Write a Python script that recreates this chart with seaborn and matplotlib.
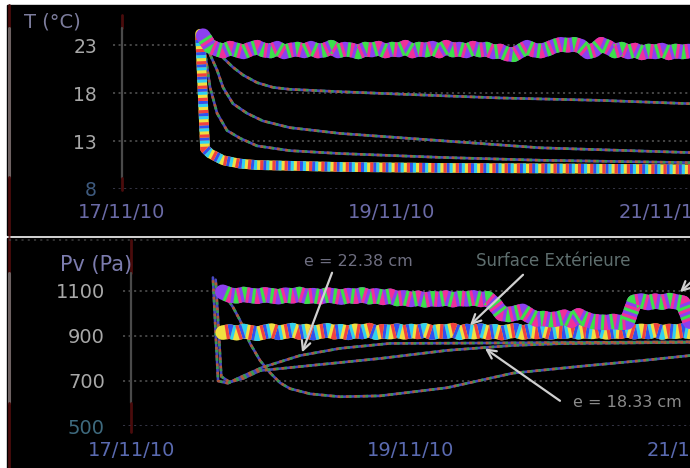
import numpy as np
import pandas as pd
import matplotlib
matplotlib.use("Agg")
import matplotlib.pyplot as plt
import seaborn as sns
from matplotlib.patches import Rectangle
from matplotlib.lines import Line2D

# ---------------- data (time in days since 17/11/10 00:00) ----------------
x_tick_pos = [0, 2, 4]
x_tick_labels = ["17/11/10", "19/11/10", "21/11/10"]

# Top panel : temperature
T_ticks = [8, 13, 18, 23]
t_T_band = [0.60, 0.65, 0.70, 0.75, 0.80, 0.85, 0.90, 0.95, 1.00, 1.05, 1.10, 1.15,
            1.20, 1.25, 1.30, 1.35, 1.40, 1.45, 1.50, 1.55, 1.60, 1.65, 1.70, 1.75,
            1.80, 1.85, 1.90, 1.95, 2.00, 2.05, 2.10, 2.15, 2.20, 2.25, 2.30, 2.35,
            2.40, 2.45, 2.50, 2.55, 2.60, 2.65, 2.70, 2.75, 2.80, 2.85, 2.90, 2.95,
            3.00, 3.05, 3.10, 3.15, 3.20, 3.25, 3.30, 3.35, 3.40, 3.45, 3.50, 3.55,
            3.60, 3.65, 3.70, 3.75, 3.80, 3.85, 3.90, 3.95, 4.00, 4.05, 4.10, 4.15, 4.20]
T_inside = [24.0, 22.9, 22.6, 22.4, 22.7, 22.5, 22.3, 22.6, 22.8, 22.5, 22.4, 22.7,
            22.3, 22.5, 22.6, 22.4, 22.7, 22.4, 22.5, 22.8, 22.4, 22.6, 22.5, 22.3,
            22.6, 22.5, 22.7, 22.4, 22.6, 22.5, 22.8, 22.4, 22.6, 22.5, 22.7, 22.4,
            22.8, 22.5, 22.6, 22.4, 22.7, 22.5, 22.6, 22.3, 22.4, 22.1, 22.0, 22.4,
            22.8, 22.5, 22.4, 22.6, 22.9, 23.1, 23.0, 23.1, 22.9, 22.3, 22.5, 23.1,
            22.8, 22.4, 22.6, 22.3, 22.5, 22.2, 22.4, 22.3, 22.5, 22.2, 22.4, 22.3, 22.4]

t_T_a = [0.60, 0.652, 0.748, 0.822, 0.896, 1.00, 1.119, 1.244, 1.615, 2.06, 2.80, 3.54, 4.21]
T_a = [24.0, 23.5, 21.7, 20.7, 19.9, 19.1, 18.6, 18.4, 18.15, 17.9, 17.5, 17.25, 16.9]
t_T_b = [0.60, 0.637, 0.704, 0.748, 0.822, 0.926, 1.044, 1.244, 1.615, 2.356, 3.096, 4.21]
T_b = [24.0, 22.5, 20.4, 18.6, 16.9, 15.9, 15.1, 14.4, 13.8, 13.05, 12.3, 11.8]
t_T_c = [0.60, 0.615, 0.652, 0.704, 0.778, 0.874, 1.00, 1.244, 1.615, 2.356, 3.096, 4.21]
T_c = [24.0, 22.2, 18.6, 15.9, 14.1, 13.3, 12.5, 12.0, 11.7, 11.3, 11.0, 10.75]
t_T_out = [0.578, 0.615, 0.652, 0.748, 0.874, 1.00, 1.615, 2.356, 3.096, 4.21]
T_out = [24.2, 12.2, 11.7, 11.0, 10.65, 10.5, 10.3, 10.2, 10.15, 10.05]

# Bottom panel : vapour pressure
Pv_ticks = [500, 700, 900, 1100]
t_Pv_band = [0.65, 0.70, 0.75, 0.80, 0.85, 0.90, 0.95, 1.00, 1.05, 1.10, 1.15, 1.20,
             1.25, 1.30, 1.35, 1.40, 1.45, 1.50, 1.55, 1.60, 1.65, 1.70, 1.75, 1.80,
             1.85, 1.90, 1.95, 2.00, 2.05, 2.10, 2.15, 2.20, 2.25, 2.30, 2.35, 2.40,
             2.45, 2.50, 2.55, 2.60, 2.65, 2.70, 2.75, 2.80, 2.85, 2.90, 2.95, 3.00,
             3.05, 3.10, 3.15, 3.20, 3.25, 3.30, 3.35, 3.40, 3.45, 3.50, 3.55, 3.60,
             3.65, 3.70, 3.75, 3.80, 3.85, 3.90, 3.95, 4.00]
Pv_inside = [1095, 1082, 1078, 1085, 1080, 1076, 1083, 1079, 1074, 1082, 1078, 1085,
             1076, 1080, 1074, 1082, 1078, 1072, 1080, 1076, 1083, 1074, 1079, 1071,
             1077, 1066, 1070, 1062, 1068, 1060, 1066, 1063, 1069, 1061, 1067, 1064,
             1070, 1062, 1066, 1040, 1000, 995, 1002, 1010, 990, 975, 978, 972,
             976, 984, 970, 990, 975, 965, 962, 960, 965, 960, 962, 1050,
             1056, 1048, 1055, 1050, 1058, 1052, 1046, 965]
Pv_surface = [915, 920, 912, 922, 916, 910, 918, 924, 914, 920, 926, 916,
              922, 913, 920, 925, 917, 921, 914, 923, 918, 926, 915, 921,
              917, 924, 916, 922, 918, 925, 915, 921, 919, 926, 914, 922,
              917, 924, 916, 921, 913, 920, 925, 915, 922, 918, 924, 916,
              921, 919, 925, 917, 922, 918, 924, 916, 921, 919, 926, 917,
              923, 918, 925, 916, 922, 919, 924, 918]
t_Pv_a = [0.58, 0.617, 0.688, 0.753, 0.932, 1.204, 1.491, 1.849, 2.28, 2.925, 4.0]
Pv_a = [1160, 700, 690, 710, 760, 813, 845, 867, 868, 870, 874]
t_Pv_b = [0.60, 0.64, 0.70, 0.80, 0.918, 1.204, 1.491, 1.778, 2.258, 2.731, 3.07, 4.0]
Pv_b = [1150, 720, 695, 712, 746, 764, 782, 800, 836, 858, 866, 872]
t_Pv_c = [0.645, 0.724, 0.774, 0.846, 0.918, 0.989, 1.061, 1.133, 1.276, 1.491,
          1.778, 2.258, 2.731, 3.211, 3.642, 4.0]
Pv_c = [1100, 1028, 970, 867, 791, 737, 692, 666, 643, 630, 634, 670, 735, 765, 790, 813]

# ---------------- style ----------------
sns.set_theme(style="dark")
plt.rcParams["font.family"] = ["DejaVu Sans"]
plt.rcParams["lines.scale_dashes"] = False
plt.rcParams["axes.facecolor"] = "black"

W, H = 690, 468
fig = plt.figure(figsize=(6.9, 4.68), dpi=100, facecolor="white")


def fx(px):
    return px / W


def fy(py):
    return 1 - py / H


for (x0, y0, x1, y1) in [(7, 5, 690, 235), (7, 237.5, 690, 468)]:
    fig.add_artist(Rectangle((fx(x0), fy(y1)), fx(x1) - fx(x0), fy(y0) - fy(y1),
                             transform=fig.transFigure, color="black", zorder=-10))


def vline_fig(px, py0, py1, color, lw=2.0):
    fig.add_artist(Line2D([fx(px), fx(px)], [fy(py0), fy(py1)], transform=fig.transFigure,
                          color=color, lw=lw, zorder=-5))


DARKRED = "#4a0c0c"
# panel borders / axis lines (as in the reference screenshot)
vline_fig(8.5, 5, 28, DARKRED); vline_fig(8.5, 28, 177, "#6e6262", 2.2); vline_fig(8.5, 177, 235, DARKRED)
vline_fig(122, 15, 28, DARKRED); vline_fig(122, 28, 178, "#4a4a4a", 1.6); vline_fig(122, 178, 190, DARKRED)
vline_fig(8.5, 238, 273, DARKRED); vline_fig(8.5, 273, 403, "#6e6262", 2.2); vline_fig(8.5, 403, 468, DARKRED)
vline_fig(131, 240, 273, DARKRED); vline_fig(131, 273, 403, "#4a4a4a", 1.6); vline_fig(131, 403, 432, DARKRED)
# dotted top border of lower panel
fig.add_artist(Line2D([fx(9), fx(690)], [fy(240), fy(240)], transform=fig.transFigure,
                      color="#3a3a3a", lw=1.2, ls=(0, (1.5, 3)), zorder=-5))

ax1 = fig.add_axes([fx(113), fy(189), fx(690) - fx(113), fy(28) - fy(189)])
ax2 = fig.add_axes([fx(123), fy(426), fx(690) - fx(123), fy(275) - fy(426)])
for ax in (ax1, ax2):
    ax.set_facecolor("black")
    ax.patch.set_alpha(0)
    ax.grid(False)
    for s in ax.spines.values():
        s.set_visible(False)


def draw(ax, x, y, base, stripes, lw, on, z):
    sns.lineplot(x=x, y=y, ax=ax, color=base, linewidth=lw, estimator=None,
                 sort=False, zorder=z)
    ax.lines[-1].set_solid_joinstyle("round")
    n = len(stripes)
    period = on * (n + 1)
    for i, c in enumerate(stripes):
        sns.lineplot(x=x, y=y, ax=ax, color=c, linewidth=lw, estimator=None,
                     sort=False, zorder=z + 0.01 * (i + 1))
        ln = ax.lines[-1]
        ln.set_linestyle((on * (i + 1), (on, period - on)))
        ln.set_dash_capstyle("butt")


PINK = ["#f0309a", "#3ce04a"]
PINK_BASE = "#8c40f0"
YEL = ["#30d0f0", "#3050f0", "#f04040"]
YEL_BASE = "#f0e040"
THIN = ["#3a9a50", "#b05a38"]
THIN_BASE = "#4848c0"

# ---- top panel ----
for v in T_ticks:
    ax1.axhline(v, color="#454545" if v != 8 else "#353545", lw=1.4,
                ls=(0, (1.5, 2.5)), zorder=1)
draw(ax1, t_T_a, T_a, THIN_BASE, THIN, 1.9, 2.0, 3)
draw(ax1, t_T_b, T_b, THIN_BASE, THIN, 1.9, 2.0, 3)
draw(ax1, t_T_c, T_c, THIN_BASE, THIN, 1.9, 2.0, 3)
draw(ax1, t_T_out, T_out, YEL_BASE, YEL, 7.0, 2.2, 4)
draw(ax1, t_T_band, T_inside, PINK_BASE, PINK, 10.5, 2.2, 5)

ax1.set_xlim(-0.067, 4.207)
ax1.set_ylim(8, 24.8)
ax1.set_yticks(T_ticks)
ax1.set_yticklabels([str(v) for v in T_ticks])
ax1.set_xticks(x_tick_pos)
ax1.set_xticklabels(x_tick_labels)
ax1.tick_params(axis="y", length=0, pad=11.5, labelsize=13.5)
ax1.tick_params(axis="x", length=0, pad=10, labelsize=14)
for lbl in ax1.get_yticklabels():
    lbl.set_color("#a8a8a8" if lbl.get_text() != "8" else "#3e5a7e")
for lbl in ax1.get_xticklabels():
    lbl.set_color("#6a6aa6")
ax1.set_xlabel("")
ax1.set_ylabel("")
fig.text(fx(24), fy(22), "T (°C)", color="#7c7c9c", fontsize=14, ha="left", va="center")

# ---- bottom panel ----
for v in Pv_ticks:
    ax2.axhline(v, color="#454545" if v != 500 else "#353545", lw=1.4,
                ls=(0, (1.5, 2.5)), zorder=1)
draw(ax2, t_Pv_c, Pv_c, THIN_BASE, THIN, 1.9, 2.0, 3)
draw(ax2, t_Pv_b, Pv_b, THIN_BASE, THIN, 1.9, 2.0, 3)
draw(ax2, t_Pv_a, Pv_a, THIN_BASE, THIN, 1.9, 2.0, 3)
draw(ax2, t_Pv_band, Pv_surface, YEL_BASE, YEL, 10.5, 2.2, 4)
draw(ax2, t_Pv_band, Pv_inside, PINK_BASE, PINK, 11.0, 2.2, 5)

ax2.set_xlim(-0.0645, 4.0)
ax2.set_ylim(500, 1171)
ax2.set_yticks(Pv_ticks)
ax2.set_yticklabels([str(v) for v in Pv_ticks])
ax2.set_xticks(x_tick_pos)
ax2.set_xticklabels(x_tick_labels)
ax2.tick_params(axis="y", length=0, pad=13, labelsize=14)
ax2.tick_params(axis="x", length=0, pad=11, labelsize=14)
for lbl in ax2.get_yticklabels():
    lbl.set_color("#a8a8a8" if lbl.get_text() != "500" else "#3e6a7e")
for lbl in ax2.get_xticklabels():
    lbl.set_color("#5a6ab0")
ax2.set_xlabel("")
ax2.set_ylabel("")
fig.text(fx(60), fy(265), "Pv (Pa)", color="#7c7cae", fontsize=15, ha="left", va="center")

arrow_kw = dict(arrowstyle="->", color="#d0d0d0", lw=1.6, shrinkA=0, shrinkB=0,
                mutation_scale=16)
ax2.annotate("", xy=(1.219, 827), xytext=(1.434, 1181), arrowprops=arrow_kw,
             annotation_clip=False, zorder=8)
ax2.annotate("", xy=(2.423, 948), xytext=(2.803, 1172), arrowprops=arrow_kw,
             annotation_clip=False, zorder=8)
ax2.annotate("", xy=(2.53, 845), xytext=(3.068, 612), arrowprops=arrow_kw,
             annotation_clip=False, zorder=8)
ax2.annotate("", xy=(3.928, 1095), xytext=(4.15, 1220), arrowprops=arrow_kw,
             annotation_clip=False, zorder=8)
ax2.text(1.62, 1232, "e = 22.38 cm", color="#6e6e80", fontsize=11.5, ha="center",
         va="center", clip_on=False)
ax2.text(3.02, 1232, "Surface Extérieure", color="#5e6e6e", fontsize=12, ha="center",
         va="center", clip_on=False)
ax2.text(3.16, 603, "e = 18.33 cm", color="#8a8a8a", fontsize=11.5, ha="left",
         va="center", clip_on=False)

fig.savefig("out.png", dpi=100, facecolor=fig.get_facecolor())
